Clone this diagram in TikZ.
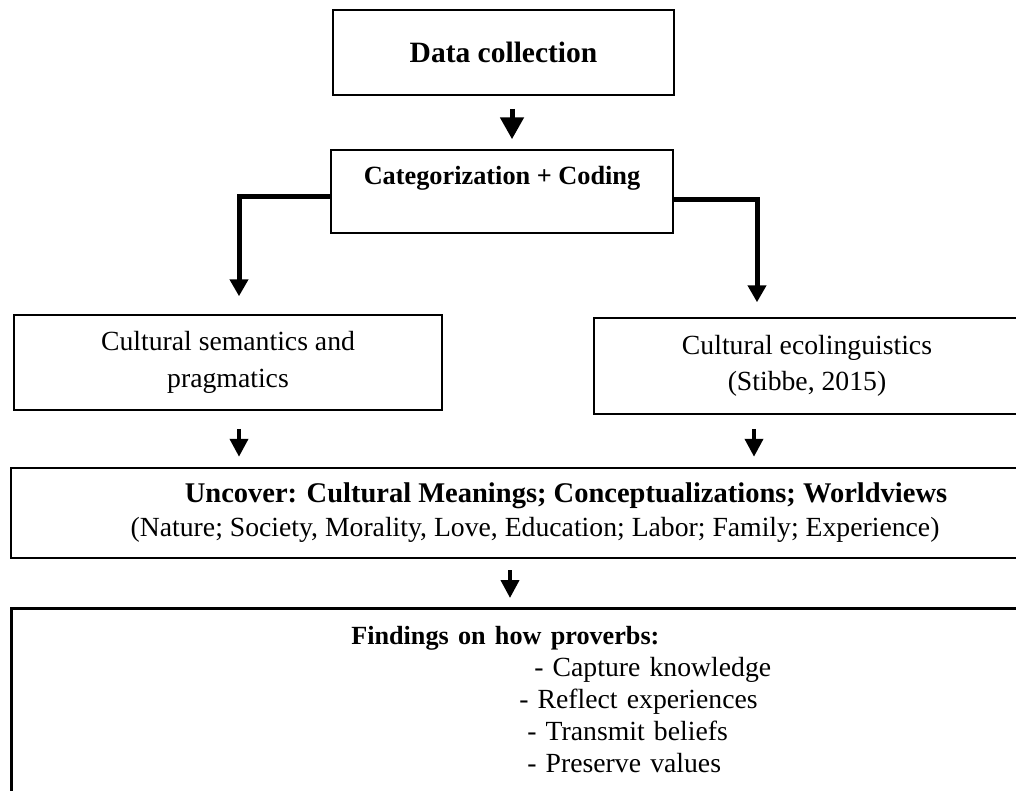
\documentclass[tikz,border=0pt]{standalone}
\usepackage{fontspec}
\setmainfont{Liberation Serif}
\usetikzlibrary{arrows.meta, calc}

\begin{document}
\begin{tikzpicture}[x=1pt, y=-1pt,
    box/.style={draw, line width=1.5pt, inner sep=0pt, align=center},
    widebox/.style={draw, line width=2.5pt, inner sep=0pt},
    elbow/.style={line width=5pt, -{Triangle[width=18pt, length=17pt]}},
    dnarrow/.style={line width=4pt, -{Triangle[width=18pt, length=18pt]}}]
    % Page frame
    \useasboundingbox (0,0) rectangle (1016,790);
    \clip (0,0) rectangle (1016,790);

    % Top boxes
    \node[box, minimum width=341pt, minimum height=85pt,
        font=\bfseries\fontsize{29.5}{35}\selectfont] (data) at (503.5,52.5) {Data collection};
    \node[box, minimum width=342pt, minimum height=83pt, text depth=33pt,
        font=\bfseries\fontsize{26.3}{31}\selectfont] (cat) at (502,191.5) {Categorization + Coding};

    % Two branches
    \node[box, minimum width=428pt, minimum height=95pt,
        font=\fontsize{27.7}{37}\selectfont] (sem) at (228,362.5) {Cultural semantics and\\pragmatics};
    \node[box, minimum width=426pt, minimum height=96pt,
        font=\fontsize{27.7}{36}\selectfont] (eco) at (807,366) {Cultural ecolinguistics\\(Stibbe, 2015)};

    % Uncover box
    \node[widebox, align=center, minimum width=1048pt, minimum height=90pt,
        font=\fontsize{27.7}{34}\selectfont] (unc) at (535,513)
        {\hspace*{62pt}{\bfseries\fontsize{28.5}{34}\selectfont Uncover: Cultural Meanings; Conceptualizations; Worldviews}\\
        (Nature; Society, Morality, Love, Education; Labor; Family; Experience)};

    % Findings box (runs off the page)
    \node[widebox, anchor=north west, text width=1020pt, align=left, inner ysep=18pt,
        font=\fontsize{27.7}{32}\selectfont] (fin) at (10,607)
        {\hspace*{340pt}{\bfseries\fontsize{26.2}{32}\selectfont Findings on how proverbs:}\\
        \hspace*{523pt}- Capture knowledge\\
        \hspace*{508pt}- Reflect experiences\\
        \hspace*{516pt}- Transmit beliefs\\
        \hspace*{516pt}- Preserve values\rule[-40pt]{0pt}{0pt}};

    % Arrows
    \draw[dnarrow, line width=5pt, -{Triangle[width=23pt, length=22pt]}, shorten <=13pt, shorten >=10pt]
        ([xshift=8.5pt]data.south) -- ([xshift=10pt]cat.north);
    \draw[elbow] ([yshift=-4.5pt]cat.west) -| ([xshift=11pt, yshift=18pt]sem.north);
    \draw[elbow] ([yshift=-7.5pt]cat.east) -| ([xshift=-50pt, yshift=15pt]eco.north);
    \draw[dnarrow, shorten <=18pt, shorten >=10pt] ([xshift=11pt]sem.south) -- ([xshift=11pt]sem.south |- unc.north);
    \draw[dnarrow, shorten <=14pt, shorten >=10pt] ([xshift=-53pt]eco.south) -- ([xshift=-53pt]eco.south |- unc.north);
    \draw[dnarrow, shorten <=11pt, shorten >=9pt] ([xshift=-25pt]unc.south) -- ([xshift=-25pt]unc.south |- fin.north);
\end{tikzpicture}
\end{document}
